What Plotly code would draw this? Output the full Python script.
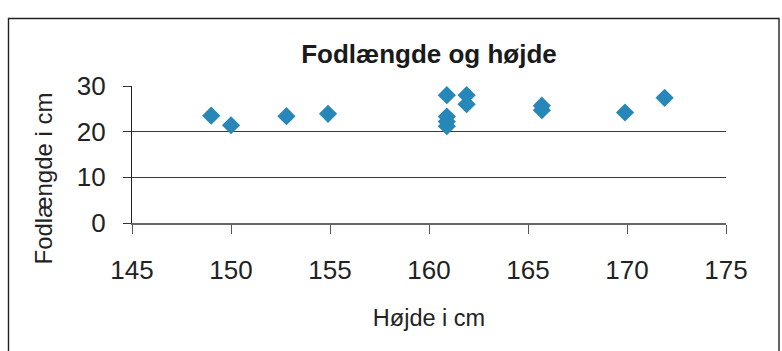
import plotly.graph_objects as go

# Height (cm) and foot length (cm) for each person
hoejde = [149, 150, 152.8, 154.9, 160.9, 160.9, 160.9, 160.9, 161.9, 161.9, 165.7, 165.7, 169.9, 171.9]
fodlaengde = [23.5, 21.4, 23.4, 23.9, 28.0, 23.3, 22.2, 21.2, 28.0, 26.0, 25.7, 24.7, 24.2, 27.4]

x_ticks = [145, 150, 155, 160, 165, 170, 175]
y_ticks = [0, 10, 20, 30]

FONT = "Liberation Sans, Arial, sans-serif"
BLUE = "#2787B9"

fig = go.Figure()
fig.add_trace(go.Scatter(
    x=hoejde, y=fodlaengde, mode="markers",
    marker=dict(symbol="diamond", size=14, color=BLUE, line=dict(width=0)),
    showlegend=False, hoverinfo="x+y",
))

L, R, T, B = 132, 56, 86, 128
pw = 782 - L - R
ph = 351 - T - B

fig.update_layout(
    width=782, height=351,
    margin=dict(l=L, r=R, t=T, b=B),
    paper_bgcolor="white", plot_bgcolor="white",
    font=dict(family=FONT, color="#222"),
    title=dict(
        text="<b>Fodlængde og højde</b>",
        font=dict(size=26, color="#1a1a1a"),
        x=0.5, xref="paper", xanchor="center",
        y=1 - 54 / 351, yref="container", yanchor="middle",
    ),
    xaxis=dict(
        range=[145, 175], tickvals=x_ticks, showgrid=False, zeroline=False,
        showline=True, linecolor="#666", linewidth=1.6,
        ticks="outside", ticklen=9, tickwidth=1.4, tickcolor="#555",
        tickfont=dict(size=26, color="#222"), ticklabelstandoff=14,
        title=dict(text="Højde i cm", font=dict(size=23.5, color="#222"), standoff=26),
    ),
    yaxis=dict(
        range=[0, 30], tickvals=y_ticks, showgrid=True, gridcolor="#3a3a3a", gridwidth=1.3,
        zeroline=False, showline=True, linecolor="#222", linewidth=1.4,
        ticks="outside", ticklen=8, tickwidth=1.3, tickcolor="#333",
        tickfont=dict(size=26, color="#222"), ticklabelstandoff=12,
    ),
    # companion axes supply the inner half of the crossing tick marks
    xaxis2=dict(
        overlaying="x", matches="x", range=[145, 175], tickvals=x_ticks,
        showgrid=False, zeroline=False, showline=False, showticklabels=False,
        ticks="inside", ticklen=7, tickwidth=1.4, tickcolor="#555", side="bottom",
    ),
    yaxis2=dict(
        overlaying="y", matches="y", range=[0, 30], tickvals=y_ticks,
        showgrid=False, zeroline=False, showline=False, showticklabels=False,
        ticks="inside", ticklen=6, tickwidth=1.3, tickcolor="#333", side="left",
    ),
)

# vertical axis title, sitting a little below the plot-area centre
fig.add_annotation(
    text="Fodlængde i cm", textangle=-90, showarrow=False,
    xref="paper", yref="paper",
    x=(43 - L) / pw, y=(351 - B - 178.5) / ph,
    xanchor="center", yanchor="middle",
    font=dict(size=24, color="#222"),
)

# outer chart frame
fig.add_shape(
    type="rect", xref="paper", yref="paper", layer="below",
    x0=(8.5 - L) / pw, x1=(779 - L) / pw,
    y0=(351 - B - 360) / ph, y1=(351 - B - 18.5) / ph,
    line=dict(color="#222", width=1.4), fillcolor="rgba(0,0,0,0)",
)

fig.write_html("out.html")
